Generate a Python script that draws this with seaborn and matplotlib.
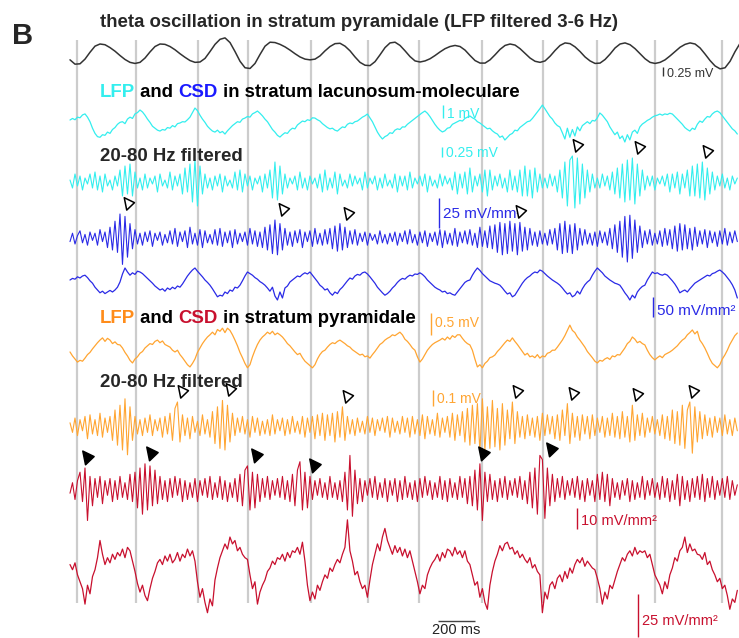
import numpy as np
import matplotlib
matplotlib.use("Agg")
import matplotlib.pyplot as plt
import seaborn as sns
from matplotlib.path import Path

# ---------------- data ----------------
THETA_DT_MS = 27.03      # sampling step of theta trace
SIG_DT_MS = 13.51        # sampling step of the other traces

theta_mv = [-0.19, -0.31, -0.30, -0.17, 0.02, 0.19, 0.25, 0.23, 0.15, 0.05, -0.07, -0.18, -0.26, -0.29,
            -0.26, -0.14, 0.03, 0.18, 0.25, 0.24, 0.18, 0.09, -0.02, -0.12, -0.21, -0.26, -0.25, -0.15,
            0.04, 0.24, 0.38, 0.42, 0.29, 0.04, -0.23, -0.41, -0.43, -0.29, -0.04, 0.19, 0.30, 0.29,
            0.24, 0.17, 0.08, -0.02, -0.11, -0.17, -0.19, -0.17, -0.08, 0.06, 0.18, 0.26, 0.27, 0.19,
            0.06, -0.11, -0.26, -0.34, -0.35, -0.24, -0.05, 0.15, 0.28, 0.30, 0.21, 0.06, -0.10, -0.22,
            -0.25, -0.22, -0.16, -0.07, 0.03, 0.12, 0.18, 0.21, 0.18, 0.08, -0.07, -0.21, -0.28, -0.28,
            -0.19, -0.05, 0.10, 0.21, 0.25, 0.22, 0.12, -0.01, -0.14, -0.23, -0.26, -0.22, -0.09, 0.07,
            0.21, 0.28, 0.26, 0.17, 0.04, -0.11, -0.22, -0.29, -0.28, -0.18, -0.03, 0.14, 0.25, 0.28,
            0.23, 0.12, -0.02, -0.16, -0.26, -0.29, -0.26, -0.19, -0.08, 0.04, 0.16, 0.24, 0.28, 0.25,
            0.14, -0.03, -0.21, -0.36, -0.44, -0.41, -0.23, 0.04, 0.27]

lfp_lm_mv = [0.23, 0.35, 0.25, 0.45, 0.40, 0.62, 0.70, 0.45, 0.10, -0.40, -0.80, -1.05,
             -1.10, -0.90, -0.95, -0.70, -0.80, -0.50, -0.35, -0.10, 0.05,
             0.10, -0.05, 0.30, 0.45, 0.35, 0.70, 0.80, 1.00,
             0.85, 0.60, 0.30, 0.05, -0.25, -0.40, -0.55, -0.62,
             -0.50, -0.55, -0.35, -0.40, -0.20, -0.30, -0.05, 0.00, 0.10, 0.08,
             0.25, 0.45, 0.80, 1.15,
             0.95, 0.60, 0.30, 0.05, -0.25, -0.45, -0.62,
             -0.70, -0.55, -0.75, -0.65, -0.85,
             -0.60, -0.40, -0.20, -0.05, 0.10, 0.05, 0.30, 0.38,
             0.50, 0.45, 0.70, 0.80, 0.92,
             0.75, 0.55, 0.30, 0.10, -0.20, -0.50, -0.70, -0.95, -1.08,
             -0.90, -0.75, -0.80, -0.55, -0.40, -0.45, -0.15, 0.00, 0.15,
             0.10, 0.25, 0.20, 0.40, 0.38,
             0.25, 0.15, -0.05, -0.20, -0.35, -0.45, -0.40, -0.55, -0.62,
             -0.45, -0.30, -0.35, -0.10, 0.00, -0.05, 0.10, 0.15,
             0.30, 0.45, 0.55, 0.69,
             0.40, 0.10, -0.30, -0.70, -1.00, -1.23,
             -1.05, -0.95, -0.75, -0.80, -0.55, -0.45, -0.50, -0.30, -0.31,
             -0.10, 0.05, 0.20, 0.35, 0.50, 0.65, 0.80, 0.92,
             0.75, 0.50, 0.20, -0.10, -0.35, -0.55, -0.69,
             -0.60, -0.40, -0.35, -0.10, 0.00, 0.10, 0.20, 0.15, 0.35, 0.45, 0.54,
             0.40, 0.30, 0.10, 0.00, -0.15, -0.30, -0.45, -0.40, -0.60, -0.75, -0.85, -1.10, -1.00, -1.31,
             -1.10, -0.90, -0.80, -0.55, -0.60, -0.35, -0.20, -0.05, 0.10, 0.15,
             0.35, 0.60, 0.85, 1.10, 1.38,
             1.10, 0.80, 0.50, 0.30, 0.00, -0.20, -0.31,
             -0.75, -1.23, -0.40, -1.10, -0.50, -1.00, -0.30, -0.60, -0.20,
             -0.05, 0.10, -0.05, 0.20, 0.15, 0.40, 0.77,
             0.60, 0.35, 0.10, -0.30, -0.60, -0.90, -0.70, -1.20, -1.00, -1.46,
             -0.90, -1.30, -0.70, -0.55, -0.80, -0.30, -0.08,
             0.05, 0.20, 0.30, 0.45, 0.55, 0.60, 0.69,
             0.60, 0.70, 0.65, 0.75, 0.69,
             0.50, 0.30, 0.10, -0.10, -0.35, -0.50, -0.62,
             -0.40, -0.50, -0.10, 0.15,
             0.05, 0.30, 0.50, 0.45, 0.70, 0.85, 0.92,
             0.80, 0.55, 0.30, 0.05, -0.20, -0.45, -0.60, -0.85]

lfp_lm_filt_uv = [50, -150, 200, -100, 150, -200, 100, -50, 200, -150,
                  250, -200, 150, -250, 200, -100, 50, -200, 150, -100,
                  300, -350, 400, -300, 450, -350, 250, -150, 100, -200,
                  200, -150, 100, -50, 150, -250, 200, -100, 50, -150,
                  250, -200, 150, -100, 200, -300, 350, -250, 450, -500,
                  550, -600, 400, -300, 200, -150, 100, -200, 150, -100,
                  200, -250, 150, -100, 50, -150, 250, -200, 300, -250,
                  200, -100, 150, -200, 100, -50, 150, -250, 200, -150,
                  300, -400, 500, -450, 400, -300, 200, -150, 100, -50,
                  150, -200, 250, -150, 100, -200, 150, -50, 100, -150,
                  200, -250, 300, -200, 100, -150, 250, -300, 200, -100,
                  50, -150, 200, -100, 150, -50, 100, -200, 250, -150,
                  100, -50, 150, -200, 100, -150, 200, -100, 50, -150,
                  200, -250, 150, -100, 150, -200, 250, -150, 100, -50,
                  150, -100, 200, -250, 150, -100, 50, -150, 200, -100,
                  150, -50, 100, -200, 250, -300, 200, -150, 250, -300,
                  350, -250, 150, -100, 200, -250, 300, -350, 300, -200,
                  150, -100, 200, -150, 100, -250, 300, -200, 150, -250,
                  300, -350, 400, -350, 300, -400, 350, -250, 200, -150,
                  100, -150, 200, -100, 150, -250, 300, -400, 500, -600,
                  550, 650, -650, 600, -550, 450, -400, 300, -250, 200,
                  -150, 100, -150, 200, -100, 150, -200, 250, -300, 350,
                  -400, 450, -500, 550, -450, 600, -550, 450, -350, 300,
                  -200, 150, -100, 150, -200, 100, -50, 150, -100, 200,
                  -250, 200, -150, 250, -300, 200, -150, 300, -350, 400,
                  -350, 450, -400, 500, -450, 350, -300, 250, -200, 150,
                  -100, 200, -150, 100, -200, 150, -50, 100]

csd_lm_filt = [-3, 4, -5, 2, 6, -4, 3, -6, 5, -2,
               4, -6, 7, -3, 5, -8, 9, -10, 14, -12,
               20, -22, 18, -16, 12, -9, 7, -5, 4, -6,
               5, -3, 6, -7, 4, -2, 5, -6, 3, -4,
               6, -5, 8, -7, 5, -3, 6, -8, 9, -5,
               4, -6, 7, -8, 6, -4, 3, -5, 7, -6,
               8, -7, 5, -4, 6, -8, 7, -5, 4, -3,
               5, -6, 8, -5, 6, -7, 5, -8, 9, -10,
               11, -13, 15, -14, 12, -10, 8, -6, 5, -7,
               6, -4, 7, -8, 5, -3, 6, -7, 8, -5,
               4, -6, 7, -5, 8, -9, 10, -11, 12, -10,
               9, -8, 6, -5, 7, -6, 4, -3, 5, -6,
               4, -2, 3, -5, 6, -4, 3, -5, 4, -3,
               5, -6, 4, -3, 6, -5, 7, -4, 3, -6,
               5, -4, 6, -7, 4, -3, 5, -6, 7, -8,
               6, -5, 4, -6, 8, -7, 5, -4, 6, -5,
               7, -6, 4, -8, 9, -7, 6, -8, 10, -9,
               11, -12, 13, -14, 12, -13, 14, -11, 12, -14,
               13, -11, 9, -10, 8, -6, 5, -7, 6, -5,
               4, -6, 7, -5, 8, -10, 12, -13, 14, -12,
               11, -13, 12, -10, 8, -6, 7, -5, 4, -6,
               5, -7, 6, -4, 5, -6, 8, -9, 11, -12,
               14, -16, 18, -20, 19, -17, 15, -12, 10, -8,
               6, -5, 7, -6, 4, -5, 6, -7, 8, -6,
               7, -9, 10, -11, 12, -10, 11, -9, 8, -10,
               9, -7, 6, -5, 7, -8, 6, -4, 5, -7,
               6, -5, 8, -6, 5, -4, 6, -3]

csd_lm = [10, 14, 12, 18, 15, 20, 22, 16, 8, 2,
          -8, -15, -22, -18, -24, -20, -16, -20, -15, -8,
          5, 25, 40, 30, 22, 28, 24, 32, 30, 26,
          20, 14, 8, 2, -5, -10, -15, -12, -18, -10,
          -14, -8, -12, -5, -8, 0, 10, 20, 28, 35,
          40, 32, 25, 18, 10, 4, -3, -12, -22, -32,
          -28, -30, -20, -24, -15, -18, -8, -10, -3, 8,
          20, 30, 26, 22, 16, 12, 6, 2, -3, -10,
          -18, -8, -30, -40, -20, -35, -10, -5, 5, 10,
          15, 20, 18, 24, 28, 25, 30, 22, 14, 6,
          -3, -8, -15, -12, -22, -28, -20, -24, -14, -8,
          0, 8, 15, 12, 20, 24, 22, 28, 30, 25,
          18, 10, 2, -8, -15, -22, -28, -24, -18, -10,
          -4, 4, 10, 14, 12, 18, 22, 20, 25, 24,
          28, 24, 18, 10, 4, -2, -8, -12, -15, -20,
          -18, -24, -22, -26, -28, -20, -12, -4, 4, 8,
          10, 22, 32, 40, 34, 26, 20, 14, 8, 5,
          2, 0, -3, -10, -18, -25, -22, -32, -28, -18,
          -8, 2, 10, 16, 20, 26, 30, 28, 35, 32,
          26, 20, 15, 10, 6, 2, -3, -10, -18, -25,
          -22, -32, -28, -18, -25, -12, -2, 5, 10, 22,
          32, 40, 34, 28, 20, 15, 10, 6, 2, 0,
          -3, -12, -22, -30, -40, -28, -35, -20, -12, -6,
          -3, 10, 20, 30, 26, 28, 24, 22, 25, 22,
          15, 8, 0, -10, -22, -18, -15, -20, -12, -5,
          2, 6, 10, 14, 18, 22, 20, 26, 28, 32,
          35, 30, 24, 16, 8, -2, -15, -35]

lfp_pyr_mv = [-0.09, -0.18, -0.25, -0.32, -0.28, -0.30, -0.23, -0.15, -0.10, -0.02,
              0.05, 0.12, 0.18, 0.23, 0.15, 0.22, 0.18, 0.10, 0.14, 0.08,
              0.07, 0.0, -0.10, -0.18, -0.28, -0.34, -0.25, -0.20, -0.12, -0.08,
              0.0, 0.05, 0.10, 0.08, 0.15, 0.18, 0.12, 0.16, 0.08, 0.05,
              0.02, -0.05, -0.09, -0.05, -0.15, -0.22, -0.30, -0.38, -0.43, -0.35,
              -0.25, -0.10, 0.0, 0.10, 0.18, 0.25, 0.30, 0.36, 0.30, 0.42,
              0.38, 0.45, 0.35, 0.45, 0.40, 0.30, 0.18, 0.05, -0.10, -0.22,
              -0.35, -0.45, -0.38, -0.20, -0.05, 0.08, 0.18, 0.25, 0.30, 0.36,
              0.32, 0.38, 0.30, 0.34, 0.30, 0.25, 0.18, 0.10, 0.05, -0.02,
              -0.09, -0.15, -0.12, -0.22, -0.30, -0.35, -0.40, -0.45, -0.38, -0.25,
              -0.15, -0.08, -0.05, 0.02, 0.08, 0.12, 0.10, 0.15, 0.18, 0.14,
              0.10, 0.05, 0.02, -0.04, -0.08, -0.12, -0.16, -0.14, -0.20, -0.18,
              -0.23, -0.15, -0.08, 0.0, 0.08, 0.12, 0.18, 0.22, 0.25, 0.30,
              0.28, 0.32, 0.36, 0.30, 0.20, 0.15, 0.08, 0.0, -0.05, -0.20,
              -0.32, -0.25, -0.15, -0.05, 0.02, 0.08, 0.12, 0.15, 0.18, 0.22,
              0.18, 0.25, 0.20, 0.28, 0.24, 0.30, 0.30, 0.22, 0.15, 0.10,
              0.07, -0.05, -0.25, -0.43, -0.38, -0.45, -0.35, -0.30, -0.22, -0.20,
              -0.16, -0.08, -0.02, 0.05, 0.12, 0.18, 0.15, 0.23, 0.15, 0.08,
              0.0, -0.08, -0.16, -0.12, -0.20, -0.18, -0.22, -0.15, -0.23, -0.18,
              -0.20, -0.12, -0.10, -0.05, -0.05, 0.02, 0.10, 0.18, 0.28, 0.40,
              0.52, 0.40, 0.35, 0.25, 0.18, 0.10, 0.02, -0.08, -0.15, -0.22,
              -0.30, -0.34, -0.28, -0.30, -0.25, -0.22, -0.26, -0.18, -0.20, -0.15,
              -0.16, -0.08, 0.0, 0.10, 0.15, 0.25, 0.20, 0.12, 0.15, 0.10,
              0.07, -0.05, -0.15, -0.22, -0.27, -0.22, -0.18, -0.22, -0.15, -0.12,
              -0.09, -0.05, 0.0, 0.05, 0.12, 0.18, 0.22, 0.30, 0.35, 0.41,
              0.32, 0.38, 0.18, 0.10, 0.0, -0.12, -0.25, -0.35, -0.40, -0.45,
              -0.38, -0.25, -0.16, -0.05, 0.08, 0.18, 0.28, 0.34]

lfp_pyr_filt_uv = [20, -40, 50, -60, 40, -30, 60, -80, 70, -50,
                   40, -60, 80, -70, 50, -40, 60, -90, 100, -120,
                   130, -150, 170, -180, 120, -90, 60, -50, 40, -60,
                   50, -40, 70, -60, 40, -30, 50, -70, 60, -50,
                   80, -90, 110, 150, -100, 70, -60, 50, -80, 60,
                   -40, 30, -60, 70, -50, 40, -70, 90, -110, 120,
                   -140, 160, -150, 130, -100, 80, -60, 50, -40, 60,
                   -50, 40, -70, 60, -40, 50, -60, 30, -50, 40,
                   -60, 70, -50, 40, -30, 50, -60, 40, -50, 60,
                   -40, 30, -50, 60, -70, 50, -40, 60, -80, 70,
                   -60, 80, -90, 70, -60, 80, -100, 90, -70, 120,
                   -90, 60, -50, 40, -60, 50, -40, 30, -50, 60,
                   -40, 50, -60, 40, -30, 50, -40, 60, -70, 50,
                   -40, 30, -50, 60, -40, 50, -70, 60, -50, 40,
                   -60, 70, -80, 60, -50, 40, -60, 80, -70, 50,
                   -40, 60, -70, 80, -90, 70, -60, 90, -100, 110,
                   -120, 130, -110, 140, -160, 170, -150, 120, -140, 160,
                   -130, 110, -150, 140, -120, 100, -80, 150, -110, 90,
                   -70, 60, -80, 70, -60, 50, -70, 60, -90, 80,
                   -60, 70, -50, 60, -80, 70, -90, 100, -60, 140,
                   -110, 80, -70, 60, -90, 70, -50, 60, -80, 70,
                   -60, 50, -40, 60, -70, 50, -60, 80, -70, 60,
                   -80, 90, -70, 60, -100, 130, -90, 70, -60, 80,
                   -70, 50, -40, 60, -50, 40, -60, 70, -80, 60,
                   -90, 100, -110, 90, -120, 130, -140, 100, 150, -170,
                   120, -100, 90, -80, 70, -60, 50, -70, 60, -40,
                   50, -60, 70, -50, 40, -60, 50, -30]

csd_pyr_filt = [-2, 3, -5, 4, 8, -6, 10, -15, 6, -8,
                5, -4, 6, -7, 4, -3, 5, -6, 4, -5,
                6, -4, 3, -5, 7, -6, 8, -9, 10, -12,
                12, -10, 11, -8, 9, -7, 6, -5, 4, -6,
                5, -4, 6, -3, 5, -6, 4, -5, 3, -4,
                5, -6, 4, -3, 5, -4, 6, -5, 3, -4,
                6, -5, 4, -6, 3, -4, 5, -6, 7, -8,
                9, 11, -10, 8, -9, 7, -6, 5, -4, 6,
                -5, 4, -3, 5, -4, 6, -5, 4, -6, 7,
                -8, 9, 13, -10, 8, -9, 6, -5, 4, -3,
                5, -4, 3, -5, 6, -4, 3, -5, 4, -6,
                8, -10, 16, -13, 9, -7, 5, -6, 4, -3,
                5, -4, 6, -5, 3, -4, 5, -6, 4, -3,
                5, -6, 4, -5, 6, -4, 3, -5, 4, -6,
                5, -4, 6, -3, 4, -5, 3, -4, 6, -5,
                4, -6, 5, -4, 3, -5, 6, -4, 5, -7,
                6, -8, 9, -10, 12, -15, 8, -6, 7, -5,
                4, -6, 5, -4, 6, -5, 4, -3, 5, -4,
                6, -5, 4, -7, 8, -9, 10, -12, 16, 14,
                -14, 10, -8, 7, -6, 5, -4, 6, -5, 4,
                -3, 5, -4, 6, -5, 4, -6, 5, -3, 4,
                -6, 7, -5, 8, -6, 7, -8, 5, -4, 3,
                -5, 4, -3, 5, -6, 4, -5, 3, -4, 6,
                -5, 4, -3, 5, -4, 3, -5, 6, -4, 5,
                -6, 4, -5, 7, -8, 6, -5, 4, -6, 5,
                -4, 6, -5, 7, -6, 5, -4, 6, -5, 4,
                -3, 5, -4, 6, -5, 4, -3, 2]

csd_pyr = [2, -1, 3, -4, -8, -12, -21, -10, -15, -5,
           -1, 6, 16, 8, 2, 6, 3, 8, 5, 9,
           7, 11, 6, 12, 10, 4, -2, -9, -14, -10,
           -16, -19, -12, -6, -2, 3, 5, 2, 7, 4,
           8, 3, 5, 9, 4, 8, 6, 11, 7, 10,
           4, -8, -17, -12, -20, -26, -18, -22, -7, 0,
           6, 10, 14, 11, 18, 14, 16, 10, 12, 8,
           6, 5, -4, -12, -8, -21, -14, -10, -7, -2,
           0, 4, 2, 6, 5, 8, 4, 9, 6, 10,
           9, 12, 8, 15, 4, -10, -19, -14, -18, -10,
           -13, -8, -4, -6, 0, -2, 2, 5, 3, 8,
           12, 28, 10, 4, -4, -2, -8, -12, -10, -17,
           -7, 2, 8, 14, 10, 18, 23, 16, 12, 8,
           13, 9, 12, 7, 11, 6, 10, 4, -2, -8,
           -15, -10, -12, -4, 0, 3, 5, 8, 4, 9,
           6, 11, 10, 7, 12, 8, 10, 6, 10, 4,
           2, -4, -10, -8, -17, -12, -20, -24, -10, -2,
           4, 8, 13, 10, 14, 15, 11, 12, 8, 10,
           6, 8, 5, 3, 6, 0, 2, -2, -4, -26,
           -14, -18, -10, -8, -12, -6, -4, -8, -2, -6,
           0, -3, 2, 5, 3, 6, 1, 4, 2, 0,
           -1, -6, -12, -21, -14, -18, -10, -12, -7, -2,
           2, 6, 4, 8, 10, 7, 12, 8, 10, 9,
           10, 6, 8, 2, -4, -7, -10, -15, -8, -12,
           -4, 0, 6, 4, 10, 12, 18, 9, 14, 10,
           11, 8, 7.5, 5, 9, 2, 4, -1, -4, -8,
           -6, -12, -10, -16, -24, -18, -20, -13]

theta_trough_ms = [38, 357, 692, 962, 1303, 1611, 1886, 2227, 2557, 2848, 3162, 3524]

events_lm_lfp_ms = [2740, 3076, 3443]
events_lm_csd_ms = [313, 1151, 1503, 2432]
events_pyr_lfp_ms = [605, 865, 1497, 2416, 2719, 3065, 3367]
events_pyr_csd_ms = [92, 438, 1005, 1319, 2232, 2600]

# ---------------- layout ----------------
W, H = 739, 638
X0 = 70                 # px where time 0 sits
MS_PER_PX = 200.0 / 37  # from the 200 ms scale bar


def px2t(x):
    return (x - X0) * MS_PER_PX


C_THETA = "#333333"
C_CYAN = "#33eeee"
C_BLUE = "#2a2ae6"
C_ORANGE = "#ffa532"
C_RED = "#c8102e"
C_GRID = "#cccccc"

sns.set_style("white")
plt.rcParams['font.family'] = ['Liberation Sans', 'DejaVu Sans']

fig = plt.figure(figsize=(W / 100, H / 100), dpi=100)
ax = fig.add_axes([0, 0, 1, 1])

# grey lines at theta troughs
ax.vlines(theta_trough_ms, 40, 603, color=C_GRID, lw=1.6, zorder=0)

# (values, dt, baseline px, px per unit, color, lw)
traces = [
    (theta_mv, THETA_DT_MS, 53, 36.0, C_THETA, 1.1),
    (lfp_lm_mv, SIG_DT_MS, 123, 13.0, C_CYAN, 0.9),
    (lfp_lm_filt_uv, SIG_DT_MS, 182, 0.04, C_CYAN, 0.8),
    (csd_lm_filt, SIG_DT_MS, 238, 1.2, C_BLUE, 0.8),
    (csd_lm, SIG_DT_MS, 284, 0.4, C_BLUE, 0.9),
    (lfp_pyr_mv, SIG_DT_MS, 348, 44.0, C_ORANGE, 0.9),
    (lfp_pyr_filt_uv, SIG_DT_MS, 426, 0.16, C_ORANGE, 0.8),
    (csd_pyr_filt, SIG_DT_MS, 489, 2.1, C_RED, 0.8),
    (csd_pyr, SIG_DT_MS, 568, 1.72, C_RED, 0.9),
]
for vals, dt, base, gain, col, lw in traces:
    v = np.asarray(vals, dtype=float)
    t = np.arange(len(v)) * dt
    sns.lineplot(x=t, y=base - gain * v, color=col, lw=lw, ax=ax,
                 sort=False, estimator=None, legend=False, zorder=3)

# arrowheads
arrow = Path([(-13.7, 18.7), (19.3, 2.7), (-5.7, -21.3), (-13.7, 18.7)],
             [Path.MOVETO, Path.LINETO, Path.LINETO, Path.CLOSEPOLY])


def marks(events, vals, base, gain, filled):
    v = np.asarray(vals, dtype=float)
    ys = []
    for e in events:
        i = int(round(e / SIG_DT_MS))
        top = v[max(i - 3, 0):i + 2].max()
        ys.append(base - gain * top - 11)
    ax.plot(events, ys, ls='none', marker=arrow, ms=10.5 if filled else 9.5,
            mfc='black' if filled else 'white', mec='black', mew=1.1, zorder=5)


marks(events_lm_lfp_ms, lfp_lm_filt_uv, 182, 0.04, False)
marks(events_lm_csd_ms, csd_lm_filt, 238, 1.2, False)
marks(events_pyr_lfp_ms, lfp_pyr_filt_uv, 426, 0.16, False)
marks(events_pyr_csd_ms, csd_pyr_filt, 489, 2.1, True)


# scale bars
def vbar(x, top, size, gain, col, label, fs, lab_base):
    ax.plot([px2t(x), px2t(x)], [top, top + size * gain], color=col, lw=1.0,
            solid_capstyle='butt')
    ax.text(px2t(x + 4), lab_base, label, color=col, fontsize=fs, va='baseline', ha='left')


vbar(663, 67, 0.25, 36.0, C_THETA, "0.25 mV", 9, 77)
vbar(443, 105, 1.0, 13.0, C_CYAN, "1 mV", 10, 118)
vbar(442, 147, 250, 0.04, C_CYAN, "0.25 mV", 10, 157)
vbar(439, 198, 25, 1.2, C_BLUE, "25 mV/mm²", 11, 218)
vbar(653, 297, 50, 0.4, C_BLUE, "50 mV/mm²", 11, 315)
vbar(431, 313, 0.5, 44.0, C_ORANGE, "0.5 mV", 10, 327)
vbar(433, 390, 100, 0.16, C_ORANGE, "0.1 mV", 10, 403)
vbar(577, 508, 10, 2.1, C_RED, "10 mV/mm²", 10.5, 525)
vbar(638, 594, 25, 1.72, C_RED, "25 mV/mm²", 10.5, 625)

t0 = px2t(438)
ax.plot([t0, t0 + 200], [621, 621], color="#444444", lw=1.0, solid_capstyle='butt')
ax.text(t0 + 100, 634, "200 ms", color="#222222", fontsize=10.5, ha='center', va='baseline')

# headings
TFS = 13.4
ax.text(px2t(12), 44, "B", fontsize=21, fontweight='bold', va='baseline', ha='left')
ax.text(px2t(100), 27, "theta oscillation in stratum pyramidale (LFP filtered 3-6 Hz)",
        fontsize=TFS, fontweight='bold', va='baseline', ha='left')
ax.text(px2t(100), 161, "20-80 Hz filtered", fontsize=TFS, fontweight='bold',
        va='baseline', ha='left', zorder=4)
ax.text(px2t(100), 387, "20-80 Hz filtered", fontsize=TFS, fontweight='bold',
        va='baseline', ha='left', zorder=4)

renderer = fig.canvas.get_renderer()


def chain(x, y, parts):
    for s, c in parts:
        tx = ax.text(px2t(x), y, s, color=c, fontsize=TFS, fontweight='bold',
                     va='baseline', ha='left', zorder=4)
        x += tx.get_window_extent(renderer).width


chain(100, 97, [("LFP", C_CYAN), (" and ", "black"), ("CSD", "#1a1aff"),
                (" in stratum lacunosum-moleculare", "black")])
chain(100, 323, [("LFP", "#ff8c1a"), (" and ", "black"), ("CSD", C_RED),
                 (" in stratum pyramidale", "black")])

ax.set_xlim(px2t(0), px2t(W))
ax.set_ylim(H, 0)
ax.axis('off')

fig.savefig("out.png", dpi=100)
